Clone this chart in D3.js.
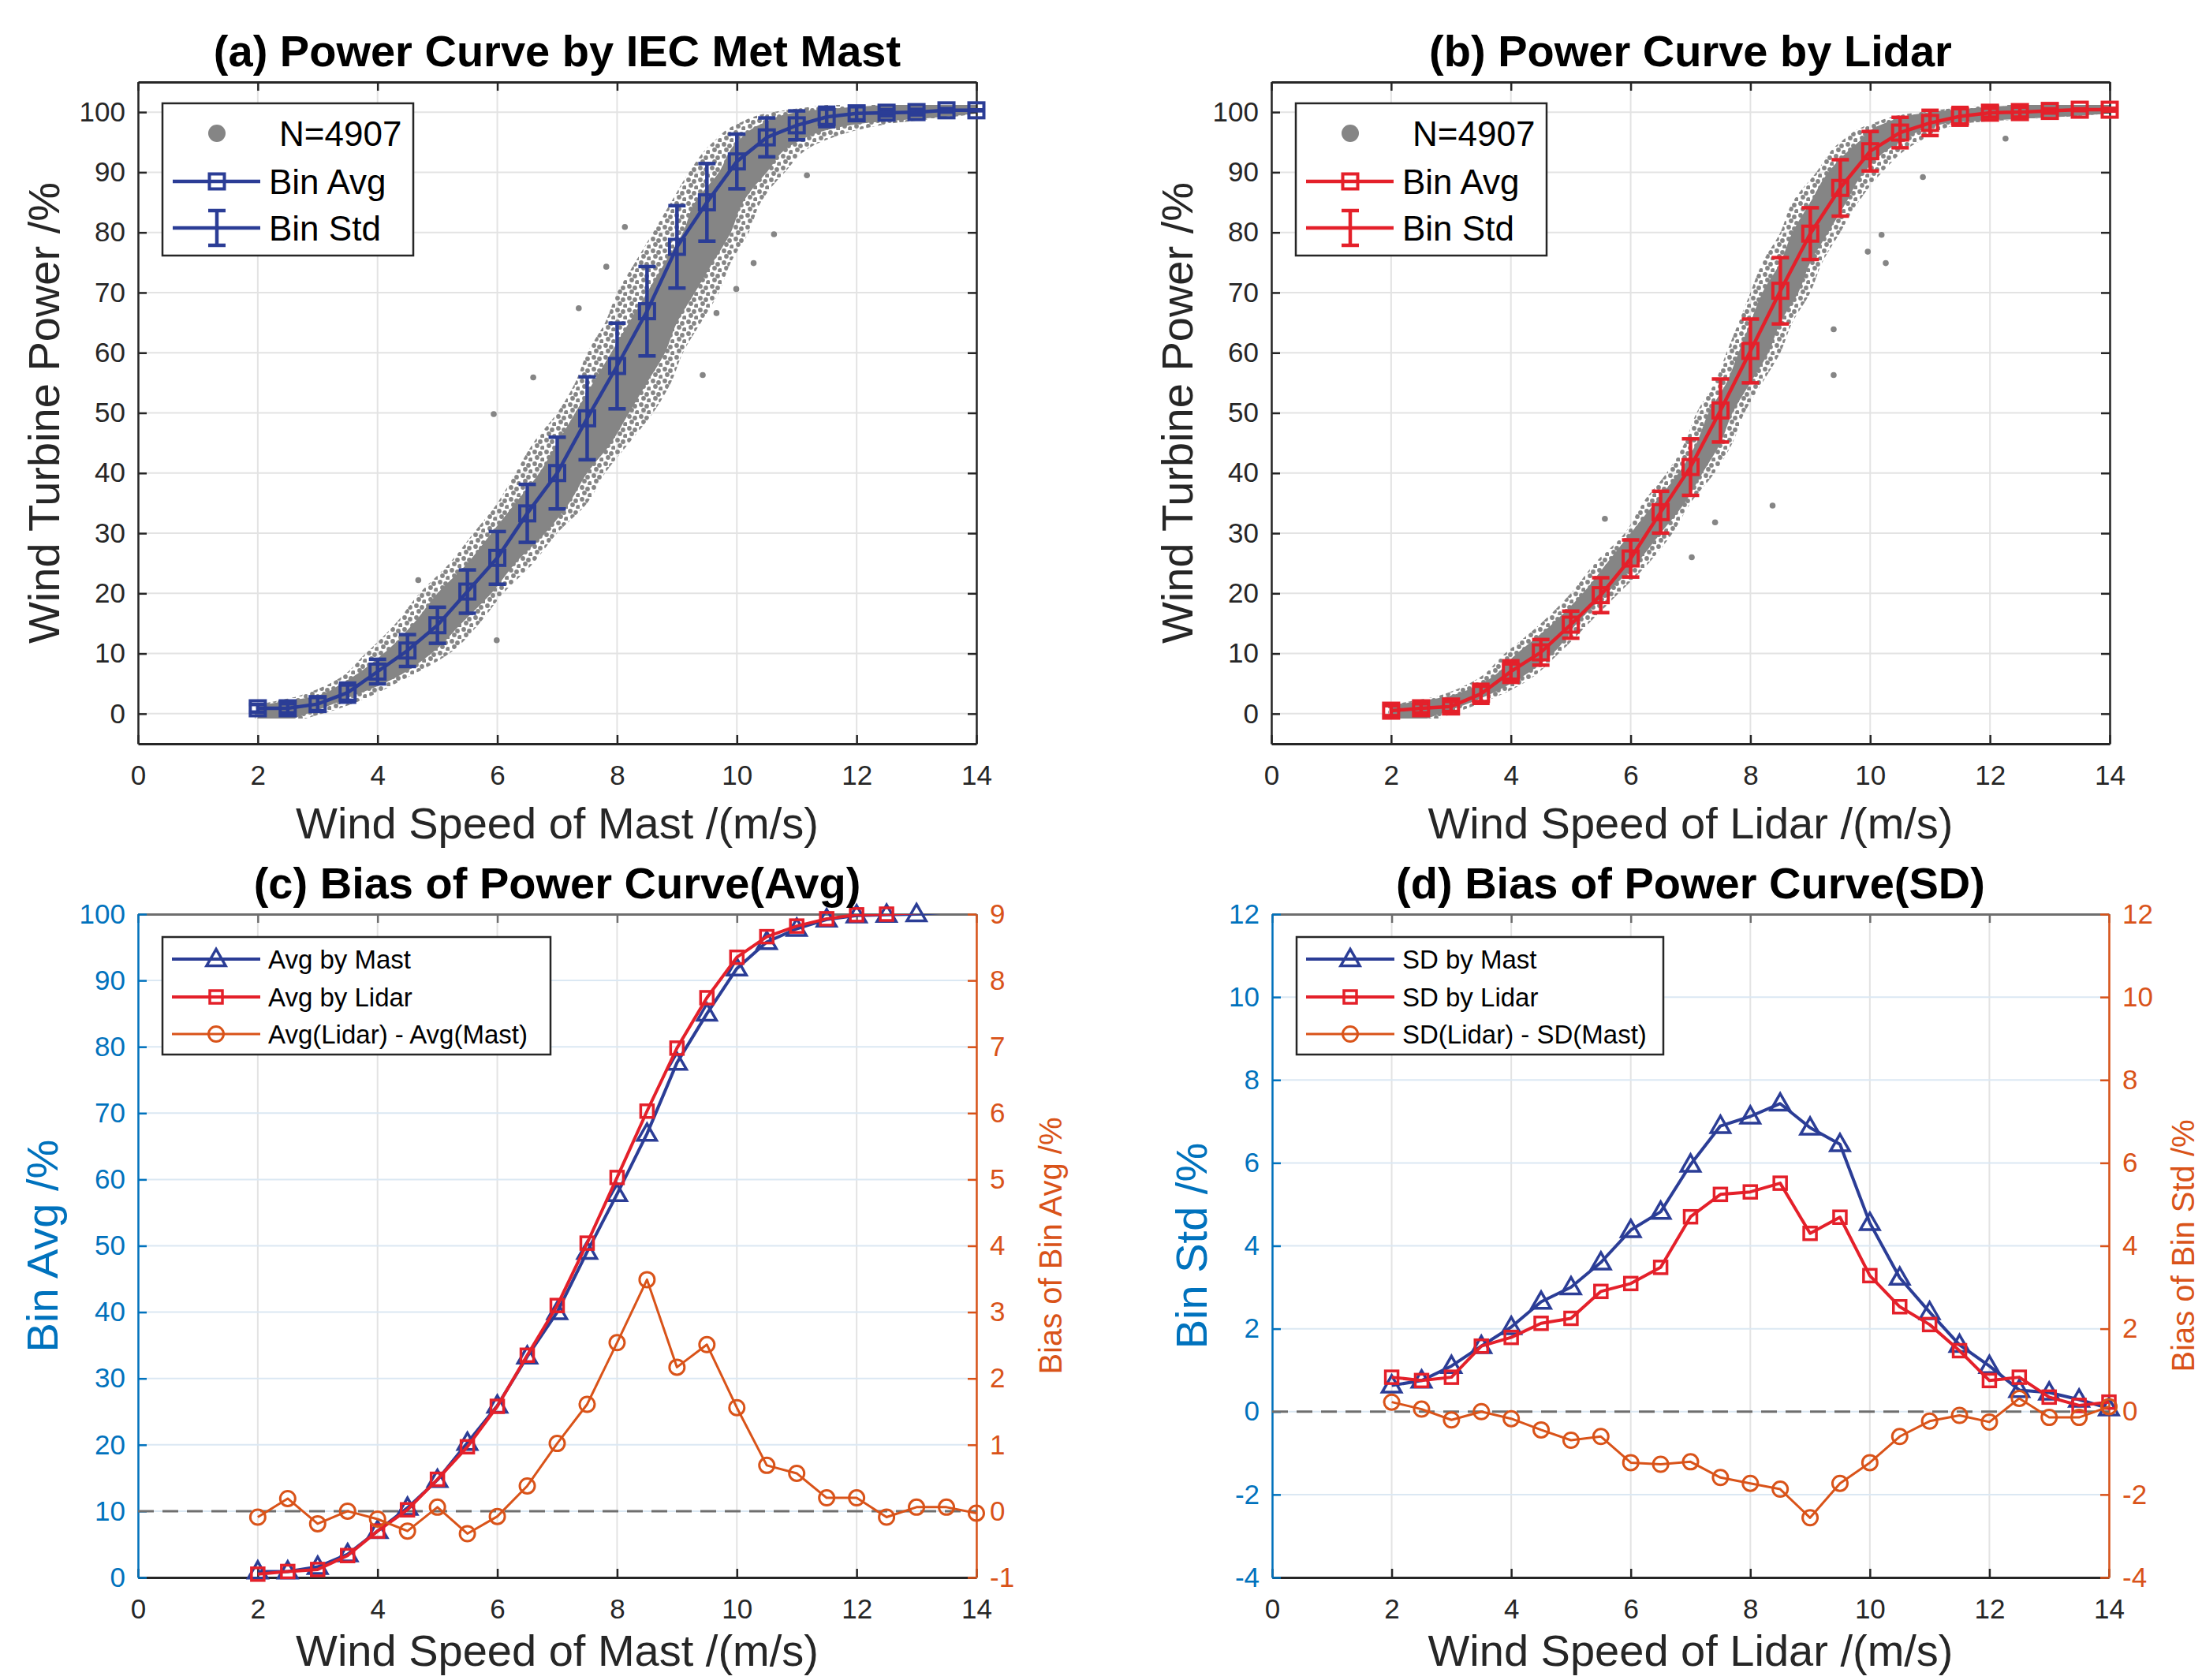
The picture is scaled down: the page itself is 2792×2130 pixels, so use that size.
<!DOCTYPE html>
<html>
<head>
<meta charset="utf-8">
<script src="https://cdn.jsdelivr.net/npm/d3@7"></script>
<style>
  body { margin: 0; background: #fff; }
</style>
</head>
<body>
<div id="chart"></div>
<script>
// Wind speed bins (m/s)
const speedBins = [2, 2.5, 3, 3.5, 4, 4.5, 5, 5.5, 6, 6.5, 7, 7.5, 8, 8.5, 9, 9.5, 10, 10.5, 11, 11.5, 12, 12.5, 13, 13.5, 14];

// Bin averages of power (%)
const mastAvg = [0.9, 0.9, 1.6, 3.5, 7.0, 10.5, 14.7, 20.3, 25.9, 33.3, 40.0, 49.1, 57.8, 66.9, 77.6, 85.0, 91.8, 95.8, 97.8, 99.2, 99.8, 99.9, 100.0, 100.3, 100.3];
const lidarAvg = [0.5, 0.9, 1.2, 3.3, 7.0, 10.2, 14.8, 19.7, 25.8, 33.5, 41.0, 50.4, 60.3, 70.3, 79.8, 87.4, 93.5, 96.6, 98.2, 99.3, 99.9, 100.0, 100.2, 100.4, 100.4];

// Bin standard deviations (%)
const mastStd = [0.63, 0.75, 1.1, 1.58, 2.04, 2.65, 3.0, 3.6, 4.38, 4.82, 5.96, 6.89, 7.12, 7.43, 6.85, 6.45, 4.55, 3.23, 2.4, 1.61, 1.1, 0.52, 0.46, 0.29, 0.08];
const lidarStd = [0.83, 0.75, 0.83, 1.58, 1.79, 2.13, 2.25, 2.9, 3.09, 3.48, 4.7, 5.24, 5.3, 5.51, 4.3, 4.69, 3.28, 2.53, 2.1, 1.47, 0.75, 0.83, 0.35, 0.15, 0.23];

// Lidar minus mast
const avgBias = [-0.09, 0.19, -0.19, 0.0, -0.12, -0.3, 0.06, -0.34, -0.08, 0.38, 1.02, 1.61, 2.54, 3.49, 2.17, 2.51, 1.56, 0.69, 0.57, 0.2, 0.2, -0.09, 0.06, 0.06, -0.03];
const stdBias = [0.23, 0.06, -0.2, 0.0, -0.17, -0.44, -0.69, -0.6, -1.23, -1.27, -1.21, -1.59, -1.73, -1.87, -2.56, -1.73, -1.23, -0.6, -0.23, -0.09, -0.25, 0.32, -0.14, -0.14, 0.12];

// Scatter cloud outline (wind speed range at each power level)
const cloudLevels = [-0.8, 1, 3, 5, 10, 15, 20, 25, 30, 35, 40, 45, 50, 55, 60, 65, 70, 75, 80, 85, 90, 95, 98, 100, 101.2];
const mastSpreadLo = [1.95, 1.95, 2.7, 3.2, 3.8, 4.3, 4.7, 5.2, 5.6, 6.0, 6.3, 6.6, 7.0, 7.3, 7.5, 7.8, 8.0, 8.3, 8.6, 8.9, 9.2, 9.6, 10.0, 10.6, 11.5];
const mastSpreadHi = [2.8, 3.4, 3.9, 4.3, 5.2, 5.7, 6.1, 6.6, 7.0, 7.5, 7.8, 8.2, 8.6, 8.9, 9.1, 9.4, 9.7, 9.9, 10.2, 10.4, 10.8, 11.4, 12.5, 14.0, 14.0];
const mastCoreLo = [2.0, 2.0, 3.0, 3.4, 4.1, 4.6, 5.0, 5.5, 5.9, 6.3, 6.7, 7.0, 7.3, 7.6, 7.9, 8.2, 8.5, 8.8, 9.1, 9.3, 9.7, 10.0, 10.4, 11.0, 12.5];
const mastCoreHi = [2.6, 3.1, 3.6, 4.1, 4.9, 5.4, 5.9, 6.3, 6.8, 7.2, 7.5, 7.9, 8.2, 8.5, 8.8, 9.0, 9.3, 9.6, 9.9, 10.1, 10.5, 11.0, 12.0, 14.0, 14.0];
const lidarSpreadLo = [1.95, 1.95, 2.8, 3.3, 3.9, 4.5, 5.0, 5.4, 5.9, 6.2, 6.6, 6.9, 7.1, 7.4, 7.6, 7.8, 8.0, 8.2, 8.5, 8.7, 9.1, 9.5, 10.0, 10.8, 12.0];
const lidarSpreadHi = [2.8, 3.3, 3.8, 4.2, 4.8, 5.3, 5.8, 6.3, 6.7, 7.0, 7.4, 7.7, 7.9, 8.2, 8.5, 8.7, 9.0, 9.2, 9.5, 9.8, 10.2, 10.8, 11.5, 14.0, 14.0];
const lidarCoreLo = [2.0, 2.0, 3.0, 3.5, 4.1, 4.7, 5.2, 5.6, 6.0, 6.4, 6.8, 7.1, 7.3, 7.6, 7.8, 8.0, 8.2, 8.5, 8.7, 9.0, 9.3, 9.8, 10.2, 11.0, 12.5];
const lidarCoreHi = [2.6, 3.1, 3.6, 4.0, 4.7, 5.1, 5.6, 6.1, 6.5, 6.9, 7.2, 7.5, 7.7, 8.0, 8.3, 8.5, 8.8, 9.0, 9.3, 9.6, 9.9, 10.5, 11.2, 14.0, 14.0];

// Isolated scatter points
const mastOutSpeed = [5.94, 10.62, 10.28, 9.99, 9.43, 9.66, 11.17, 8.13, 7.82, 6.6, 5.99, 4.68, 7.36];
const mastOutPower = [49.8, 79.7, 74.9, 70.6, 56.3, 66.6, 89.5, 80.9, 74.3, 55.9, 12.2, 22.2, 67.4];
const lidarOutSpeed = [9.39, 9.39, 8.37, 10.19, 9.96, 10.26, 7.41, 7.02, 5.57, 12.26, 10.88];
const lidarOutPower = [56.3, 63.9, 34.6, 79.6, 76.8, 74.9, 31.8, 26.0, 32.4, 95.6, 89.2];

// Tick values
const xTicks = [0, 2, 4, 6, 8, 10, 12, 14];
const powerTicks = [0, 10, 20, 30, 40, 50, 60, 70, 80, 90, 100];
const avgBiasTicks = [-1, 0, 1, 2, 3, 4, 5, 6, 7, 8, 9];
const stdTicks = [-4, -2, 0, 2, 4, 6, 8, 10, 12];

const W = 2792, H = 2130;
const FONT = "'Liberation Sans', Arial, Helvetica, sans-serif";
const INK = "#262626";
const BLUE = "#2b3d96";
const RED = "#e4202a";
const ORANGE = "#d95319";
const AX_BLUE = "#0072bd";
const CLOUD = "#858585";

const svg = d3.select("#chart")
    .append("svg")
    .attr("width", W)
    .attr("height", H)
    .style("display", "block")
    .style("font-family", FONT);

svg.append("rect").attr("width", W).attr("height", H).attr("fill", "#fff");

const defs = svg.append("defs");

// speckle texture for the sparse edge of the scatter cloud
const speckle = defs.append("pattern")
    .attr("id", "speckle")
    .attr("width", 15).attr("height", 15)
    .attr("patternUnits", "userSpaceOnUse");
[[3, 3], [10, 5], [6, 10], [13, 13]].forEach(([cx, cy]) => {
    speckle.append("circle").attr("cx", cx).attr("cy", cy).attr("r", 2.9).attr("fill", CLOUD);
});

function makePanel(box, yDomain, id) {
    const x = d3.scaleLinear().domain([0, 14]).range([box.left, box.right]);
    const y = d3.scaleLinear().domain(yDomain).range([box.bottom, box.top]);
    defs.append("clipPath").attr("id", id)
        .append("rect")
        .attr("x", box.left).attr("y", box.top)
        .attr("width", box.right - box.left).attr("height", box.bottom - box.top);
    return { box, x, y, g: svg.append("g"), clip: `url(#${id})` };
}

function drawGrid(p, yTicks, hColor, vColor) {
    const { box, x, y, g } = p;
    g.append("g").selectAll("line").data(xTicks).join("line")
        .attr("x1", d => x(d)).attr("x2", d => x(d))
        .attr("y1", box.top).attr("y2", box.bottom)
        .attr("stroke", vColor).attr("stroke-width", 2);
    g.append("g").selectAll("line").data(yTicks).join("line")
        .attr("x1", box.left).attr("x2", box.right)
        .attr("y1", d => y(d)).attr("y2", d => y(d))
        .attr("stroke", hColor).attr("stroke-width", 2);
}

function styleAxis(sel, color, width) {
    sel.attr("font-size", 35).attr("font-family", FONT);
    sel.select(".domain").attr("stroke", color).attr("stroke-width", width || 2.5);
    sel.selectAll(".tick line").attr("stroke", color).attr("stroke-width", 2.5);
    sel.selectAll(".tick text").attr("fill", color);
}

const fmt = d => String(d);

function drawXAxes(p, topColor) {
    const { box, x, g } = p;
    g.append("g")
        .attr("transform", `translate(0,${box.bottom})`)
        .call(d3.axisBottom(x).tickValues(xTicks).tickSizeInner(-11).tickSizeOuter(0).tickPadding(27).tickFormat(fmt))
        .call(s => styleAxis(s, INK, 3));
    g.append("g")
        .attr("transform", `translate(0,${box.top})`)
        .call(d3.axisTop(x).tickValues(xTicks).tickSizeInner(-11).tickSizeOuter(0).tickFormat(""))
        .call(s => styleAxis(s, topColor, 3));
}

function drawYAxes(p, yLeft, leftTicks, leftColor, yRight, rightTicks, rightColor, rightLabels) {
    const { box, g } = p;
    g.append("g")
        .attr("transform", `translate(${box.left},0)`)
        .call(d3.axisLeft(yLeft).tickValues(leftTicks).tickSizeInner(-11).tickSizeOuter(0).tickPadding(16).tickFormat(fmt))
        .call(s => styleAxis(s, leftColor));
    g.append("g")
        .attr("transform", `translate(${box.right},0)`)
        .call(d3.axisRight(yRight).tickValues(rightTicks).tickSizeInner(-11).tickSizeOuter(0).tickPadding(17)
            .tickFormat(rightLabels ? fmt : ""))
        .call(s => styleAxis(s, rightColor));
}

function addTitle(p, text) {
    p.g.append("text")
        .attr("x", (p.box.left + p.box.right) / 2)
        .attr("y", p.box.top - 20)
        .attr("text-anchor", "middle")
        .attr("font-size", 56)
        .attr("font-weight", "bold")
        .attr("fill", "#000")
        .text(text);
}

function addXLabel(p, text, dy) {
    p.g.append("text")
        .attr("x", (p.box.left + p.box.right) / 2)
        .attr("y", p.box.bottom + dy)
        .attr("text-anchor", "middle")
        .attr("font-size", 56)
        .attr("fill", INK)
        .text(text);
}

function addYLabel(p, text, xPos, size, color) {
    p.g.append("text")
        .attr("transform", `translate(${xPos},${(p.box.top + p.box.bottom) / 2}) rotate(-90)`)
        .attr("text-anchor", "middle")
        .attr("font-size", size)
        .attr("fill", color)
        .text(text);
}

// marker shapes centred on (0,0)
function addMarker(sel, type, color, size, sw) {
    if (type === "square") {
        sel.append("rect")
            .attr("x", -size / 2).attr("y", -size / 2)
            .attr("width", size).attr("height", size)
            .attr("fill", "none").attr("stroke", color).attr("stroke-width", sw);
    } else if (type === "triangle") {
        const w = size * 1.15, h = size;
        sel.append("path")
            .attr("d", `M0,${-h * 0.6}L${w / 2},${h * 0.4}L${-w / 2},${h * 0.4}Z`)
            .attr("fill", "none").attr("stroke", color).attr("stroke-width", sw)
            .attr("stroke-linejoin", "miter");
    } else {
        sel.append("circle")
            .attr("r", size / 2)
            .attr("fill", "none").attr("stroke", color).attr("stroke-width", sw);
    }
}

function drawSeries(p, y, values, color, type, size, lineW, markW) {
    const line = d3.line()
        .x((d, i) => p.x(speedBins[i]))
        .y(d => y(d));
    p.g.append("path")
        .datum(values)
        .attr("clip-path", p.clip)
        .attr("d", line)
        .attr("fill", "none")
        .attr("stroke", color)
        .attr("stroke-width", lineW)
        .attr("stroke-linejoin", "round");
    const [lo, hi] = d3.extent(y.domain());
    p.g.append("g").selectAll("g")
        .data(values.map((v, i) => ({ s: speedBins[i], v })).filter(d => d.v >= lo && d.v <= hi))
        .join("g")
        .attr("transform", d => `translate(${p.x(d.s)},${y(d.v)})`)
        .each(function () { addMarker(d3.select(this), type, color, size, markW); });
}

// ---------- (a) and (b): power curves with scatter cloud ----------
function powerPanel(box, id, avg, std, color, spreadLo, spreadHi, coreLo, coreHi, outSpeed, outPower, title, xlabel) {
    const p = makePanel(box, [-5, 105], id);
    const { x, y, g } = p;

    drawGrid(p, powerTicks, "#e3e3e3", "#e3e3e3");

    // scatter cloud
    const cloud = g.append("g").attr("clip-path", p.clip);
    const band = (lo, hi) => d3.area()
        .y((d, i) => y(cloudLevels[i]))
        .x0((d, i) => x(lo[i]))
        .x1((d, i) => x(hi[i]))
        .curve(d3.curveMonotoneY);
    cloud.append("path").datum(cloudLevels).attr("d", band(spreadLo, spreadHi)).attr("fill", "url(#speckle)");
    cloud.append("path").datum(cloudLevels).attr("d", band(coreLo, coreHi)).attr("fill", CLOUD);
    cloud.selectAll("circle.out")
        .data(outSpeed)
        .join("circle")
        .attr("class", "out")
        .attr("cx", d => x(d))
        .attr("cy", (d, i) => y(outPower[i]))
        .attr("r", 3.8)
        .attr("fill", CLOUD);

    drawXAxes(p, INK);
    drawYAxes(p, y, powerTicks, INK, y, powerTicks, INK, false);

    // error bars
    const bars = g.append("g").selectAll("g")
        .data(avg.map((v, i) => ({ s: speedBins[i], v, sd: std[i] })))
        .join("g");
    bars.append("line")
        .attr("x1", d => x(d.s)).attr("x2", d => x(d.s))
        .attr("y1", d => y(d.v - d.sd)).attr("y2", d => y(d.v + d.sd))
        .attr("stroke", color).attr("stroke-width", 4.5);
    [-1, 1].forEach(sign => {
        bars.append("line")
            .attr("x1", d => x(d.s) - 11).attr("x2", d => x(d.s) + 11)
            .attr("y1", d => y(d.v + sign * d.sd)).attr("y2", d => y(d.v + sign * d.sd))
            .attr("stroke", color).attr("stroke-width", 4.5);
    });

    const avgLine = d3.line().x((d, i) => x(speedBins[i])).y(d => y(d));
    g.append("path").datum(avg).attr("d", avgLine)
        .attr("fill", "none").attr("stroke", color).attr("stroke-width", 4.5);
    g.append("g").selectAll("g")
        .data(avg)
        .join("g")
        .attr("transform", (d, i) => `translate(${x(speedBins[i])},${y(d)})`)
        .each(function () { addMarker(d3.select(this), "square", color, 19, 4); });

    // legend
    const lx = box.left, ly = box.top;
    const lg = g.append("g");
    lg.append("rect")
        .attr("x", lx + 31).attr("y", ly + 27)
        .attr("width", 318).attr("height", 193)
        .attr("fill", "#fff").attr("stroke", INK).attr("stroke-width", 2.5);
    const rows = [ly + 65, ly + 126, ly + 185];
    lg.append("circle").attr("cx", lx + 100).attr("cy", rows[0]).attr("r", 11).attr("fill", CLOUD);
    [1, 2].forEach(r => {
        lg.append("line")
            .attr("x1", lx + 44).attr("x2", lx + 155)
            .attr("y1", rows[r]).attr("y2", rows[r])
            .attr("stroke", color).attr("stroke-width", 4.5);
    });
    addMarker(lg.append("g").attr("transform", `translate(${lx + 100},${rows[1]})`), "square", color, 19, 4);
    lg.append("line")
        .attr("x1", lx + 100).attr("x2", lx + 100)
        .attr("y1", rows[2] - 22).attr("y2", rows[2] + 22)
        .attr("stroke", color).attr("stroke-width", 4.5);
    [-22, 22].forEach(dy => {
        lg.append("line")
            .attr("x1", lx + 89).attr("x2", lx + 111)
            .attr("y1", rows[2] + dy).attr("y2", rows[2] + dy)
            .attr("stroke", color).attr("stroke-width", 4.5);
    });
    const labels = ["N=4907", "Bin Avg", "Bin Std"];
    labels.forEach((t, i) => {
        lg.append("text")
            .attr("x", lx + (i === 0 ? 179 : 166))
            .attr("y", rows[i])
            .attr("dy", "0.36em")
            .attr("font-size", 44)
            .attr("fill", "#000")
            .text(t);
    });

    addTitle(p, title);
    addXLabel(p, xlabel, 120);
    addYLabel(p, "Wind Turbine Power /%", box.left - 100, 56, INK);
}

powerPanel({ left: 175, right: 1238, top: 104, bottom: 943 }, "clipA",
    mastAvg, mastStd, BLUE, mastSpreadLo, mastSpreadHi, mastCoreLo, mastCoreHi,
    mastOutSpeed, mastOutPower, "(a) Power Curve by IEC Met Mast", "Wind Speed of Mast /(m/s)");

powerPanel({ left: 1612, right: 2675, top: 104, bottom: 943 }, "clipB",
    lidarAvg, lidarStd, RED, lidarSpreadLo, lidarSpreadHi, lidarCoreLo, lidarCoreHi,
    lidarOutSpeed, lidarOutPower, "(b) Power Curve by Lidar", "Wind Speed of Lidar /(m/s)");

// ---------- (c) and (d): comparison with bias on right axis ----------
function biasPanel(box, id, leftDomain, leftTicks, rightDomain, rightTicks, mastVals, lidarVals, biasVals, names, title, xlabel, leftLabel, rightLabel, leftLabelX, rightLabelX, legendW) {
    const p = makePanel(box, leftDomain, id);
    const { x, y, g } = p;
    const y2 = d3.scaleLinear().domain(rightDomain).range([box.bottom, box.top]);

    drawGrid(p, leftTicks, "#dbe8f3", "#e3e3e3");
    drawXAxes(p, "#6e6e6e");
    drawYAxes(p, y, leftTicks, AX_BLUE, y2, rightTicks, ORANGE, true);

    // zero reference of the bias axis
    g.append("line")
        .attr("x1", x(0)).attr("x2", x(14))
        .attr("y1", y2(0)).attr("y2", y2(0))
        .attr("stroke", "#6e6e6e").attr("stroke-width", 3)
        .attr("stroke-dasharray", "20,11");

    drawSeries(p, y, mastVals, BLUE, "triangle", 21, 4, 3.5);
    drawSeries(p, y, lidarVals, RED, "square", 16, 4, 3.5);
    drawSeries(p, y2, biasVals, ORANGE, "circle", 19, 3, 3);

    // legend
    const lx = box.left, ly = box.top;
    const lg = g.append("g");
    lg.append("rect")
        .attr("x", lx + 31).attr("y", ly + 29)
        .attr("width", legendW).attr("height", 149)
        .attr("fill", "#fff").attr("stroke", INK).attr("stroke-width", 2.5);
    const rows = [ly + 57, ly + 105, ly + 152];
    const items = [
        { color: BLUE, type: "triangle", size: 21, w: 4, mw: 3.5 },
        { color: RED, type: "square", size: 16, w: 4, mw: 3.5 },
        { color: ORANGE, type: "circle", size: 19, w: 3, mw: 3 }
    ];
    items.forEach((it, i) => {
        lg.append("line")
            .attr("x1", lx + 43).attr("x2", lx + 155)
            .attr("y1", rows[i]).attr("y2", rows[i])
            .attr("stroke", it.color).attr("stroke-width", it.w);
        addMarker(lg.append("g").attr("transform", `translate(${lx + 99},${rows[i]})`), it.type, it.color, it.size, it.mw);
        lg.append("text")
            .attr("x", lx + 165).attr("y", rows[i])
            .attr("dy", "0.36em")
            .attr("font-size", 33)
            .attr("fill", "#000")
            .text(names[i]);
    });

    addTitle(p, title);
    addXLabel(p, xlabel, 112);
    addYLabel(p, leftLabel, leftLabelX, 56, AX_BLUE);
    addYLabel(p, rightLabel, rightLabelX, 40, ORANGE);
}

biasPanel({ left: 175, right: 1238, top: 1159, bottom: 2000 }, "clipC",
    [0, 100], powerTicks, [-1, 9], avgBiasTicks,
    mastAvg, lidarAvg, avgBias,
    ["Avg by Mast", "Avg by Lidar", "Avg(Lidar) - Avg(Mast)"],
    "(c) Bias of Power Curve(Avg)", "Wind Speed of Mast /(m/s)",
    "Bin Avg /%", "Bias of Bin Avg /%", 73, 1346, 492);

biasPanel({ left: 1613, right: 2674, top: 1159, bottom: 2000 }, "clipD",
    [-4, 12], stdTicks, [-4, 12], stdTicks,
    mastStd, lidarStd, stdBias,
    ["SD by Mast", "SD by Lidar", "SD(Lidar) - SD(Mast)"],
    "(d) Bias of Power Curve(SD)", "Wind Speed of Lidar /(m/s)",
    "Bin Std /%", "Bias of Bin Std /%", 1530, 2782, 465);
</script>
</body>
</html>
